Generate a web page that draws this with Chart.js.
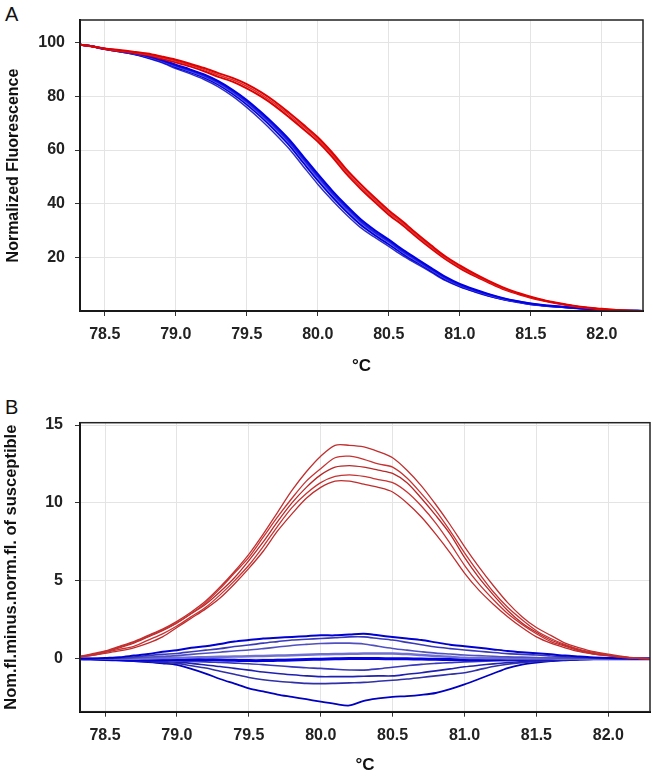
<!DOCTYPE html>
<html>
<head>
<meta charset="utf-8">
<script src="https://cdn.jsdelivr.net/npm/chart.js@4.4.1/dist/chart.umd.min.js"></script>
<style>
  body { margin: 0; background: #fff; font-family: "Liberation Sans", Arial, sans-serif; }
  .panel { position: absolute; left: 0; width: 653px; }
  .letter { position: absolute; left: 5px; font-size: 20px; line-height: 20px; color: #111; }
</style>
</head>
<body>
<div class="letter" style="top:4px">A</div>
<div class="letter" style="top:397px">B</div>
<div class="panel" style="top:0;height:380px"><canvas id="meltChart"></canvas></div>
<div class="panel" style="top:380px;height:396px"><canvas id="diffChart"></canvas></div>
<script>
// temperature steps (°C), shared by every curve
const temps = [78.3, 78.4, 78.5, 78.6, 78.7, 78.8, 78.9, 79.0, 79.1, 79.2, 79.3,
  79.4, 79.5, 79.6, 79.7, 79.8, 79.9, 80.0, 80.1, 80.2, 80.3, 80.4, 80.5, 80.6,
  80.7, 80.8, 80.9, 81.0, 81.1, 81.2, 81.3, 81.4, 81.5, 81.6, 81.7, 81.8, 81.9,
  82.0, 82.1, 82.2, 82.3];
const xTicks = [78.5, 79.0, 79.5, 80.0, 80.5, 81.0, 81.5, 82.0];
const yTicksA = [20, 40, 60, 80, 100];
const yTicksB = [0, 5, 10, 15];

// A: normalized fluorescence, red group
const redA1 = [99.5, 98.8, 97.9, 97.3, 96.7, 96.0, 94.9, 93.7, 92.2, 90.6, 88.7, 86.9, 84.6, 81.6, 78.0, 73.8, 69.4, 64.8, 59.2, 52.9, 47.4, 42.3, 37.5, 33.3, 28.7, 24.4, 20.3, 17.0, 14.0, 11.3, 8.9, 6.9, 5.3, 3.9, 2.9, 2.0, 1.3, 0.8, 0.35, 0.1, 0];
const redA2 = [99.5, 98.8, 97.8, 97.1, 96.5, 95.7, 94.5, 93.2, 91.7, 90.0, 88.0, 86.2, 83.8, 80.8, 77.2, 73.0, 68.6, 64.0, 58.4, 52.0, 46.5, 41.5, 36.7, 32.6, 28.0, 23.8, 19.8, 16.5, 13.6, 11.0, 8.6, 6.7, 5.1, 3.8, 2.8, 1.9, 1.2, 0.7, 0.3, 0.1, 0];
const redA3 = [99.5, 98.7, 97.7, 96.9, 96.3, 95.4, 94.1, 92.7, 91.2, 89.4, 87.3, 85.5, 83.0, 80.0, 76.4, 72.2, 67.8, 63.2, 57.6, 51.2, 45.7, 40.7, 35.9, 31.9, 27.4, 23.2, 19.3, 16.0, 13.2, 10.7, 8.3, 6.5, 4.9, 3.7, 2.7, 1.8, 1.1, 0.6, 0.25, 0.08, 0];
// A: normalized fluorescence, blue group
const blueA1 = [99.5, 98.8, 97.8, 97.1, 96.3, 95.2, 93.7, 91.8, 90.1, 88.2, 85.7, 82.5, 78.7, 74.2, 69.3, 63.9, 57.5, 51.1, 45.0, 39.4, 34.3, 30.2, 26.6, 22.8, 19.4, 16.0, 12.7, 10.1, 8.1, 6.4, 4.9, 3.7, 2.8, 2.1, 1.7, 1.25, 0.85, 0.5, 0.2, 0.1, 0];
const blueA2 = [99.5, 98.8, 97.75, 97.0, 96.1, 95.0, 93.4, 91.5, 89.7, 87.8, 85.2, 82.0, 78.1, 73.5, 68.6, 63.1, 56.7, 50.3, 44.2, 38.7, 33.6, 29.5, 26.0, 22.2, 18.9, 15.5, 12.3, 9.7, 7.8, 6.2, 4.7, 3.6, 2.7, 2.0, 1.6, 1.2, 0.8, 0.5, 0.2, 0.1, 0];
const blueA3 = [99.5, 98.8, 97.7, 96.9, 96.0, 94.8, 93.2, 91.2, 89.4, 87.4, 84.8, 81.5, 77.6, 73.0, 68.0, 62.5, 56.0, 49.5, 43.5, 38.0, 33.0, 29.0, 25.5, 21.8, 18.5, 15.2, 12.0, 9.5, 7.6, 6.0, 4.6, 3.5, 2.6, 2.0, 1.6, 1.2, 0.8, 0.5, 0.2, 0.1, 0];
const blueA4 = [99.5, 98.8, 97.65, 96.8, 95.9, 94.6, 93.0, 90.9, 89.1, 87.0, 84.4, 81.0, 77.0, 72.4, 67.3, 61.8, 55.2, 48.7, 42.7, 37.2, 32.3, 28.4, 24.9, 21.3, 18.1, 14.9, 11.7, 9.3, 7.4, 5.8, 4.5, 3.4, 2.5, 1.95, 1.55, 1.15, 0.75, 0.45, 0.2, 0.1, 0];
const blueA5 = [99.5, 98.8, 97.6, 96.7, 95.7, 94.3, 92.6, 90.4, 88.5, 86.3, 83.6, 80.1, 75.9, 71.2, 66.0, 60.4, 53.8, 47.3, 41.4, 36.0, 31.2, 27.5, 24.1, 20.6, 17.5, 14.4, 11.3, 9.0, 7.2, 5.6, 4.3, 3.3, 2.4, 1.9, 1.5, 1.1, 0.7, 0.4, 0.15, 0.05, 0];

// B: difference from susceptible, red group
const redB1 = [0.1, 0.3, 0.5, 0.8, 1.1, 1.5, 1.9, 2.4, 3.0, 3.7, 4.6, 5.6, 6.7, 8.0, 9.4, 10.8, 12.0, 13.0, 13.7, 13.7, 13.6, 13.3, 12.9, 12.1, 11.1, 9.9, 8.6, 7.2, 5.9, 4.7, 3.6, 2.7, 2.0, 1.5, 1.0, 0.7, 0.45, 0.3, 0.15, 0.05, 0];
const redB2 = [0.1, 0.25, 0.45, 0.75, 1.05, 1.45, 1.85, 2.3, 2.9, 3.6, 4.5, 5.5, 6.5, 7.8, 9.1, 10.3, 11.4, 12.2, 12.9, 13.0, 12.8, 12.5, 12.3, 11.6, 10.6, 9.5, 8.2, 6.8, 5.5, 4.3, 3.3, 2.5, 1.8, 1.3, 0.9, 0.6, 0.4, 0.25, 0.12, 0.04, 0];
const redB3 = [0.1, 0.25, 0.45, 0.7, 1.0, 1.4, 1.8, 2.3, 2.9, 3.5, 4.3, 5.2, 6.3, 7.5, 8.8, 10.0, 11.0, 11.8, 12.3, 12.4, 12.3, 12.1, 11.9, 11.3, 10.3, 9.2, 8.0, 6.5, 5.2, 4.1, 3.1, 2.3, 1.7, 1.2, 0.85, 0.55, 0.35, 0.22, 0.1, 0.03, 0];
const redB4 = [0.1, 0.2, 0.4, 0.6, 0.8, 1.2, 1.6, 2.1, 2.7, 3.3, 4.1, 5.0, 6.0, 7.2, 8.5, 9.7, 10.6, 11.3, 11.7, 11.8, 11.7, 11.5, 11.3, 10.7, 9.8, 8.7, 7.4, 6.0, 4.8, 3.8, 2.9, 2.2, 1.6, 1.1, 0.8, 0.5, 0.3, 0.2, 0.1, 0.03, 0];
const redB5 = [0.1, 0.2, 0.35, 0.5, 0.7, 1.0, 1.4, 2.0, 2.6, 3.2, 3.9, 4.8, 5.8, 6.9, 8.2, 9.3, 10.3, 11.0, 11.4, 11.4, 11.2, 11.0, 10.7, 10.0, 9.1, 8.0, 6.8, 5.5, 4.4, 3.5, 2.7, 2.0, 1.4, 1.0, 0.7, 0.45, 0.3, 0.18, 0.08, 0.02, 0];
// B: difference from susceptible, blue group
const blueB1 = [0, 0, 0.05, 0.1, 0.2, 0.3, 0.45, 0.55, 0.7, 0.8, 0.95, 1.1, 1.2, 1.3, 1.35, 1.4, 1.45, 1.5, 1.5, 1.55, 1.6, 1.5, 1.4, 1.3, 1.2, 1.05, 0.9, 0.8, 0.7, 0.6, 0.5, 0.42, 0.35, 0.28, 0.2, 0.14, 0.08, 0.04, 0.02, 0, 0];
const blueB2 = [0, 0, 0, 0.05, 0.1, 0.2, 0.28, 0.34, 0.45, 0.55, 0.65, 0.78, 0.88, 1.0, 1.1, 1.2, 1.25, 1.3, 1.35, 1.4, 1.4, 1.3, 1.2, 1.05, 0.9, 0.75, 0.65, 0.56, 0.48, 0.4, 0.33, 0.28, 0.24, 0.18, 0.12, 0.08, 0.05, 0.02, 0, 0, 0];
const blueB3 = [0, 0, 0, 0, 0.05, 0.1, 0.15, 0.2, 0.28, 0.35, 0.42, 0.5, 0.56, 0.65, 0.75, 0.85, 0.92, 0.98, 1.0, 1.0, 0.95, 0.8, 0.66, 0.55, 0.45, 0.36, 0.3, 0.24, 0.2, 0.16, 0.12, 0.1, 0.08, 0.05, 0.03, 0.02, 0.01, 0, 0, 0, 0];
const blueB4 = [0, 0, 0, 0, 0, 0.02, 0.04, 0.06, 0.08, 0.1, 0.12, 0.14, 0.16, 0.18, 0.2, 0.22, 0.25, 0.28, 0.3, 0.32, 0.34, 0.34, 0.34, 0.3, 0.24, 0.18, 0.12, 0.06, 0.04, 0.03, 0.02, 0.02, 0.01, 0.01, 0, 0, 0, 0, 0, 0, 0];
const blueB5 = [0, -0.02, -0.05, -0.07, -0.08, -0.08, -0.06, -0.05, -0.05, -0.06, -0.08, -0.1, -0.12, -0.12, -0.1, -0.08, -0.05, -0.03, 0, 0.02, 0.02, 0.01, 0, 0, -0.02, -0.04, -0.05, -0.06, -0.06, -0.05, -0.04, -0.03, -0.02, -0.01, 0, 0, 0, 0, 0, 0, 0];
const blueB6 = [0, 0, -0.02, -0.05, -0.08, -0.1, -0.12, -0.15, -0.18, -0.2, -0.24, -0.28, -0.32, -0.38, -0.45, -0.52, -0.58, -0.62, -0.68, -0.72, -0.73, -0.65, -0.55, -0.45, -0.36, -0.3, -0.25, -0.2, -0.18, -0.15, -0.12, -0.1, -0.08, -0.06, -0.04, -0.02, -0.01, 0, 0, 0, 0];
const blueB7 = [0, 0, -0.03, -0.06, -0.1, -0.14, -0.18, -0.22, -0.3, -0.4, -0.5, -0.62, -0.73, -0.85, -0.95, -1.03, -1.1, -1.15, -1.15, -1.15, -1.12, -1.1, -1.1, -1.0, -0.9, -0.78, -0.65, -0.52, -0.42, -0.33, -0.25, -0.18, -0.13, -0.09, -0.06, -0.03, -0.01, 0, 0, 0, 0];
const blueB8 = [0, -0.02, -0.05, -0.08, -0.12, -0.18, -0.24, -0.3, -0.45, -0.6, -0.8, -1.0, -1.2, -1.35, -1.45, -1.52, -1.58, -1.6, -1.58, -1.55, -1.52, -1.45, -1.38, -1.3, -1.2, -1.1, -1.0, -0.9, -0.7, -0.5, -0.35, -0.25, -0.18, -0.12, -0.08, -0.04, -0.02, 0, 0, 0, 0];
const blueB9 = [0, -0.03, -0.06, -0.1, -0.15, -0.22, -0.3, -0.4, -0.65, -0.95, -1.3, -1.6, -1.9, -2.1, -2.3, -2.45, -2.6, -2.76, -2.9, -3.0, -2.7, -2.55, -2.45, -2.4, -2.32, -2.2, -1.95, -1.65, -1.3, -0.95, -0.6, -0.38, -0.25, -0.16, -0.1, -0.05, -0.02, 0, 0, 0, 0];

const tickFont = { family: "Liberation Sans", size: 16, weight: "bold" };

function toPoints(values) {
  return values.map((v, i) => ({ x: temps[i], y: v }));
}

function curve(values, color, width) {
  return {
    data: toPoints(values),
    borderColor: color,
    borderWidth: width,
    pointRadius: 0,
    fill: false,
    tension: 0.3,
  };
}

// thin dark frame round the plot area
const framePlugin = {
  id: "frame",
  afterDraw(chart) {
    const a = chart.chartArea;
    const ctx = chart.ctx;
    ctx.save();
    ctx.strokeStyle = "#222";
    ctx.lineWidth = 1.5;
    ctx.strokeRect(a.left, a.top, a.right - a.left, a.bottom - a.top);
    ctx.restore();
  },
};

function xScale(titlePadTop) {
  return {
    type: "linear",
    min: 78.326,
    max: 82.29,
    afterBuildTicks: (s) => { s.ticks = xTicks.map((v) => ({ value: v })); },
    grid: { color: "#e4e4e4", tickColor: "#333", tickLength: 5 },
    border: { color: "#000", width: 2 },
    ticks: { font: tickFont, color: "#222", padding: 9, maxRotation: 0,
      callback: (v) => v.toFixed(1) },
    title: { display: true, text: "°C", color: "#111",
      font: { family: "Liberation Sans", size: 17, weight: "bold" },
      padding: { top: titlePadTop, bottom: 0 } },
  };
}

function yScale(min, max, ticks, title, titleSize, pad, titlePad) {
  return {
    min: min,
    max: max,
    afterBuildTicks: (s) => { s.ticks = ticks.map((v) => ({ value: v })); },
    grid: { color: "#e4e4e4", tickColor: "#333", tickLength: 5 },
    border: { color: "#000", width: 2 },
    ticks: { font: tickFont, color: "#222", padding: pad },
    title: { display: true, text: title, color: "#111",
      font: { family: "Liberation Sans", size: titleSize, weight: "bold" },
      padding: titlePad },
  };
}

const common = {
  responsive: true,
  maintainAspectRatio: false,
  animation: false,
  plugins: { legend: { display: false }, tooltip: { enabled: false } },
};

const meltChart = new Chart(document.getElementById("meltChart").getContext("2d"), {
  type: "line",
  data: {
    datasets: [
      curve(redA1, "#e00000", 2),
      curve(redA2, "#d83030", 1.5),
      curve(redA3, "#e00000", 2),
      curve(blueA1, "#0000e6", 2),
      curve(blueA2, "#2020d8", 2),
      curve(blueA3, "#5a5ae0", 1.5),
      curve(blueA4, "#0000e6", 2),
      curve(blueA5, "#3030c0", 1.5),
    ],
  },
  options: {
    ...common,
    layout: { padding: { top: 20, right: 10, bottom: 3.8, left: 0 } },
    scales: {
      x: xScale(2.6),
      y: yScale(0, 108.5, yTicksA, "Normalized Fluorescence", 16, 10, { top: 4.4, bottom: 4.7 }),
    },
  },
  plugins: [framePlugin],
});

const diffChart = new Chart(document.getElementById("diffChart").getContext("2d"), {
  type: "line",
  data: {
    datasets: [
      curve(redB1, "#c03030", 1.3),
      curve(redB2, "#c83232", 1.3),
      curve(redB3, "#b82828", 1.3),
      curve(redB4, "#c83232", 1.3),
      curve(redB5, "#c02c2c", 1.3),
      curve(blueB1, "#0000d0", 2),
      curve(blueB2, "#3a3ab8", 1.6),
      curve(blueB3, "#5050c0", 1.6),
      curve(blueB4, "#7070d0", 2.5),
      curve(blueB5, "#0000e0", 3),
      curve(blueB6, "#3a3ab8", 1.6),
      curve(blueB7, "#2020b0", 1.6),
      curve(blueB8, "#3030a8", 1.6),
      curve(blueB9, "#0000c0", 1.8),
    ],
  },
  options: {
    ...common,
    layout: { padding: { top: 42.7, right: 3, bottom: 0.3, left: 0 } },
    scales: {
      x: xScale(1.4),
      y: yScale(-3.4, 15.15, yTicksB, "Nom.fl.minus.norm.fl. of susceptible", 16.5, 12, { top: 1.6, bottom: 11.8 }),
    },
  },
  plugins: [framePlugin],
});
</script>
</body>
</html>
